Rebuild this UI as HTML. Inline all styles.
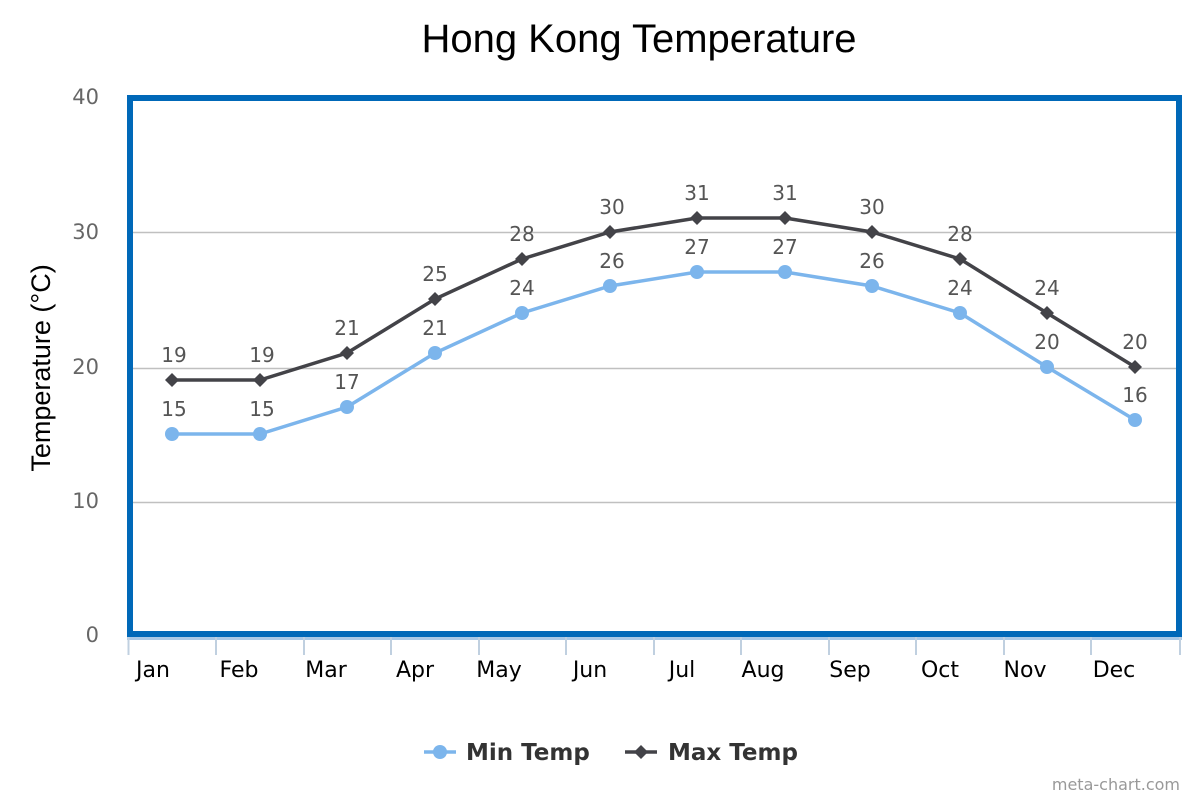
<!DOCTYPE html>
<html><head><meta charset="utf-8"><style>html,body{margin:0;padding:0;background:#fff}svg{display:block}</style></head>
<body>
<svg width="1200" height="800" viewBox="0 0 1200 800" font-family="'DejaVu Sans','Liberation Sans',sans-serif">
<text x="639" y="52" text-anchor="middle" font-family="'Liberation Sans',sans-serif" font-size="40" fill="#000">Hong Kong Temperature</text>
<g stroke="#c0c0c0" stroke-width="1.5">
<line x1="130" y1="232.5" x2="1180" y2="232.5"/>
<line x1="130" y1="368.5" x2="1180" y2="368.5"/>
<line x1="130" y1="502.5" x2="1180" y2="502.5"/>
</g>
<rect x="130" y="98" width="1049" height="536" fill="none" stroke="#0068b8" stroke-width="6"/>
<line x1="127" y1="638.5" x2="1182" y2="638.5" stroke="#a9c8e6" stroke-width="3"/>
<g stroke="#c0d0e0" stroke-width="2">
<line x1="128.5" y1="637" x2="128.5" y2="655"/><line x1="216" y1="637" x2="216" y2="655"/><line x1="304" y1="637" x2="304" y2="655"/><line x1="391" y1="637" x2="391" y2="655"/><line x1="479" y1="637" x2="479" y2="655"/><line x1="566" y1="637" x2="566" y2="655"/><line x1="654" y1="637" x2="654" y2="655"/><line x1="741" y1="637" x2="741" y2="655"/><line x1="829" y1="637" x2="829" y2="655"/><line x1="916" y1="637" x2="916" y2="655"/><line x1="1004" y1="637" x2="1004" y2="655"/><line x1="1091" y1="637" x2="1091" y2="655"/><line x1="1180" y1="637" x2="1180" y2="655"/>
</g>
<g font-size="21" fill="#666" text-anchor="end">
<text x="99" y="104">40</text><text x="99" y="239">30</text><text x="99" y="374">20</text><text x="99" y="508">10</text><text x="99" y="642">0</text>
</g>
<text transform="translate(50,368) rotate(-90)" text-anchor="middle" font-family="'Liberation Sans',sans-serif" font-size="27" fill="#000">Temperature (°C)</text>
<g font-size="22" fill="#000" text-anchor="middle">
<text x="153" y="677">Jan</text><text x="239" y="677">Feb</text><text x="326" y="677">Mar</text><text x="415" y="677">Apr</text><text x="499" y="677">May</text><text x="590" y="677">Jun</text><text x="682" y="677">Jul</text><text x="763" y="677">Aug</text><text x="850" y="677">Sep</text><text x="940" y="677">Oct</text><text x="1025" y="677">Nov</text><text x="1114" y="677">Dec</text>
</g>
<polyline fill="none" stroke="#7cb5ec" stroke-width="3.5" points="172,434 260,434 347,407 435,353 522,313 610,286 697,272 785,272 872,286 960,313 1047,367 1135,420"/>
<g fill="#7cb5ec">
<circle cx="172" cy="434" r="7"/><circle cx="260" cy="434" r="7"/><circle cx="347" cy="407" r="7"/><circle cx="435" cy="353" r="7"/><circle cx="522" cy="313" r="7"/><circle cx="610" cy="286" r="7"/><circle cx="697" cy="272" r="7"/><circle cx="785" cy="272" r="7"/><circle cx="872" cy="286" r="7"/><circle cx="960" cy="313" r="7"/><circle cx="1047" cy="367" r="7"/><circle cx="1135" cy="420" r="7"/>
</g>
<polyline fill="none" stroke="#434348" stroke-width="3.5" points="172,380 260,380 347,353 435,299 522,259 610,232 697,218 785,218 872,232 960,259 1047,313 1135,367"/>
<g fill="#434348">
<path d="M172 373l7 7-7 7-7-7z"/><path d="M260 373l7 7-7 7-7-7z"/><path d="M347 346l7 7-7 7-7-7z"/><path d="M435 292l7 7-7 7-7-7z"/><path d="M522 252l7 7-7 7-7-7z"/><path d="M610 225l7 7-7 7-7-7z"/><path d="M697 211l7 7-7 7-7-7z"/><path d="M785 211l7 7-7 7-7-7z"/><path d="M872 225l7 7-7 7-7-7z"/><path d="M960 252l7 7-7 7-7-7z"/><path d="M1047 306l7 7-7 7-7-7z"/><path d="M1135 360l7 7-7 7-7-7z"/>
</g>
<g font-size="20" fill="#555" text-anchor="middle">
<text x="174" y="416">15</text><text x="262" y="416">15</text><text x="347" y="389">17</text><text x="435" y="335">21</text><text x="522" y="295">24</text><text x="612" y="268">26</text><text x="697" y="254">27</text><text x="785" y="254">27</text><text x="872" y="268">26</text><text x="960" y="295">24</text><text x="1047" y="349">20</text><text x="1135" y="402">16</text>
<text x="174" y="362">19</text><text x="262" y="362">19</text><text x="347" y="335">21</text><text x="435" y="281">25</text><text x="522" y="241">28</text><text x="612" y="214">30</text><text x="697" y="200">31</text><text x="785" y="200">31</text><text x="872" y="214">30</text><text x="960" y="241">28</text><text x="1047" y="295">24</text><text x="1135" y="349">20</text>
</g>
<line x1="424" y1="752" x2="456" y2="752" stroke="#7cb5ec" stroke-width="3.5"/>
<circle cx="440" cy="752" r="7" fill="#7cb5ec"/>
<text x="466" y="760" font-size="23" font-weight="bold" fill="#333">Min Temp</text>
<line x1="625" y1="752" x2="657" y2="752" stroke="#434348" stroke-width="3.5"/>
<path d="M641 745l7 7-7 7-7-7z" fill="#434348"/>
<text x="668" y="760" font-size="23" font-weight="bold" fill="#333">Max Temp</text>
<text x="1180" y="790" text-anchor="end" font-size="16" fill="#999">meta-chart.com</text>
</svg>
</body></html>
